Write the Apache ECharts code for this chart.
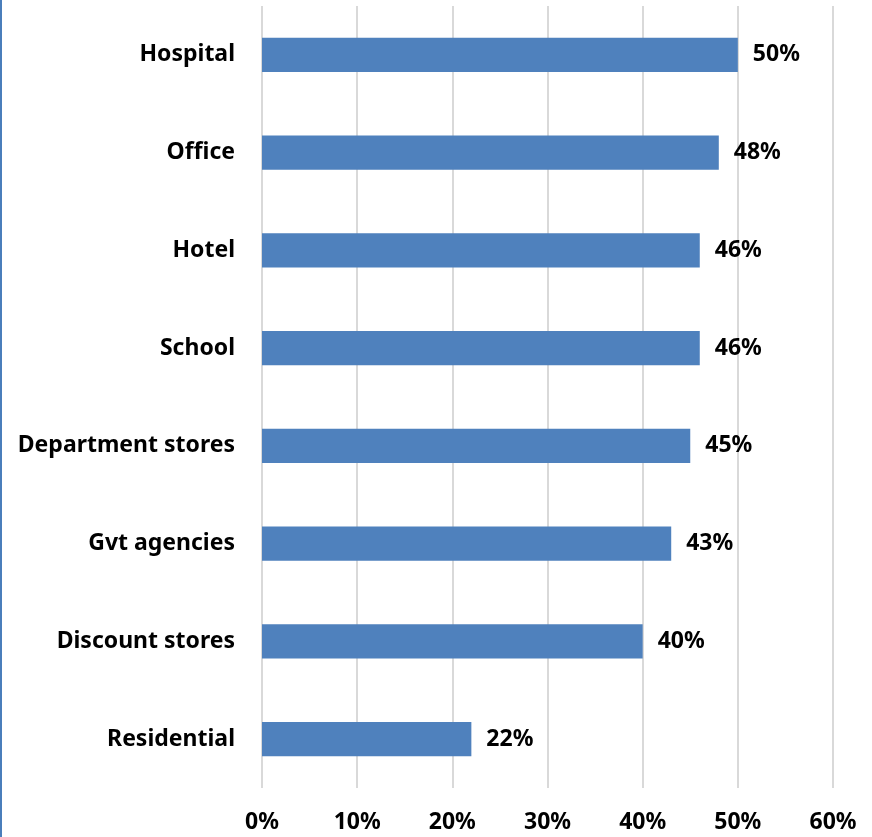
<!DOCTYPE html>
<html>
<head>
<meta charset="utf-8">
<script src="https://cdn.jsdelivr.net/npm/echarts@6/dist/echarts.min.js"></script>
<style>
  html, body { margin: 0; padding: 0; background: #fff; }
  #chart { width: 872px; height: 837px; }
</style>
</head>
<body>
<div id="chart"></div>
<script>
// categories, top to bottom
const categories = ['Hospital', 'Office', 'Hotel', 'School', 'Department stores', 'Gvt agencies', 'Discount stores', 'Residential'];
// share in percent
const values = [50, 48, 46, 46, 45, 43, 40, 22];

const font = '"Noto Sans", "DejaVu Sans", sans-serif';

let myChart = echarts.init(document.getElementById('chart'));

myChart.setOption({
    backgroundColor: '#fff',
    animation: false,
    graphic: [{
        // blue frame line on the left edge
        type: 'rect',
        shape: { x: 0, y: 0, width: 2, height: 837 },
        style: { fill: '#4a7ebb' }
    }],
    grid: { left: 262, right: 39, top: 6, bottom: 49 },
    xAxis: {
        type: 'value',
        min: 0,
        max: 60,
        interval: 10,
        axisLine: { show: false },
        axisTick: { show: false },
        splitLine: { lineStyle: { color: '#d9d9d9', width: 2 } },
        axisLabel: {
            margin: 23,
            formatter: '{value}%',
            color: '#000',
            fontFamily: font,
            fontWeight: 'bold',
            fontSize: 23
        }
    },
    yAxis: {
        type: 'category',
        data: categories,
        inverse: true,
        axisLine: { show: false },
        axisTick: { show: false },
        axisLabel: {
            margin: 27,
            color: '#000',
            fontFamily: font,
            fontWeight: 'bold',
            fontSize: 23
        }
    },
    series: [{
        type: 'bar',
        data: values,
        barWidth: '35%',
        itemStyle: { color: '#4f81bd' },
        label: {
            show: true,
            position: 'right',
            distance: 15,
            formatter: '{c}%',
            color: '#000',
            fontFamily: font,
            fontWeight: 'bold',
            fontSize: 23
        }
    }]
});
</script>
</body>
</html>
